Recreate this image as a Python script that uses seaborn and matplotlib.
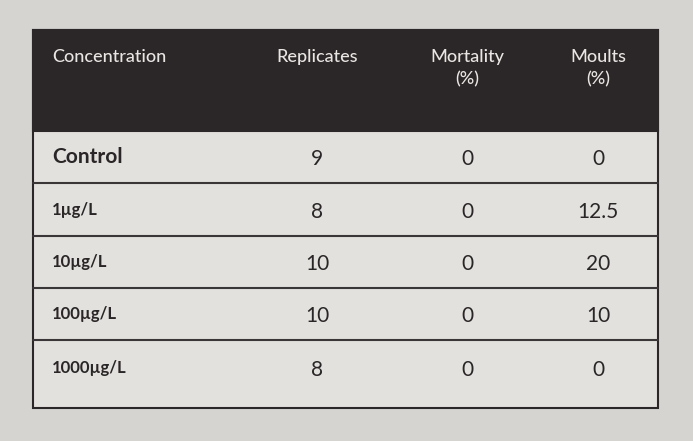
import matplotlib
matplotlib.use("Agg")
import matplotlib.pyplot as plt
import seaborn as sns

sns.set_theme(style="white")
plt.rcParams['font.family'] = ['Lato', 'DejaVu Sans']

headers = ["Concentration", "Replicates", "Mortality\n(%)", "Moults\n(%)"]
concentrations = ["Control", "1µg/L", "10µg/L", "100µg/L", "1000µg/L"]
replicates = ["9", "8", "10", "10", "8"]
mortality = ["0", "0", "0", "0", "0"]
moults = ["0", "12.5", "20", "10", "0"]

fig = plt.figure(figsize=(6.93, 4.41), dpi=100)
fig.patch.set_facecolor("#d6d4d1")
ax = fig.add_axes([0, 0, 1, 1])
ax.set_xlim(0, 693)
ax.set_ylim(441, 0)
ax.axis("off")
ax.set_facecolor("#d6d4d1")

L, R, T, B = 33, 658, 30, 408
hdr_b = 131
row_edges = [hdr_b, 183, 236, 288, 340, B]
ax.add_patch(plt.Rectangle((L, T), R - L, B - T, facecolor="#e3e1de", edgecolor="#2b2728", lw=1.5))
ax.add_patch(plt.Rectangle((L, T), R - L, hdr_b - T, facecolor="#2b2627", edgecolor="#2b2728", lw=1.5))
for y in row_edges[1:-1]:
    ax.plot([L, R], [y, y], color="#3a3536", lw=1.5)

col_x = [52, 317, 467, 598]
hdr_color = "#e8e6e3"
ax.text(col_x[0], 49, headers[0], color=hdr_color, fontsize=13, ha="left", va="top", fontweight="medium")
for x, h in zip(col_x[1:], headers[1:]):
    ax.text(x, 49, h, color=hdr_color, fontsize=13, ha="center", va="top",
            linespacing=1.45, fontweight="medium")

tc = "#2a2627"
for i, (c, r, m, mo) in enumerate(zip(concentrations, replicates, mortality, moults)):
    yc = (row_edges[i] + row_edges[i + 1]) / 2 - (6 if i == 4 else 0)
    ax.text(col_x[0], yc, c, color=tc, fontsize=15 if i == 0 else 12,
            fontweight="bold", ha="left", va="center")
    ax.text(col_x[1], yc + 2, r, color=tc, fontsize=15, ha="center", va="center")
    ax.text(col_x[2], yc + 2, m, color=tc, fontsize=15, ha="center", va="center")
    ax.text(col_x[3], yc + 2, mo, color=tc, fontsize=15, ha="center", va="center")

fig.savefig("out.png", dpi=100, facecolor=fig.get_facecolor())
